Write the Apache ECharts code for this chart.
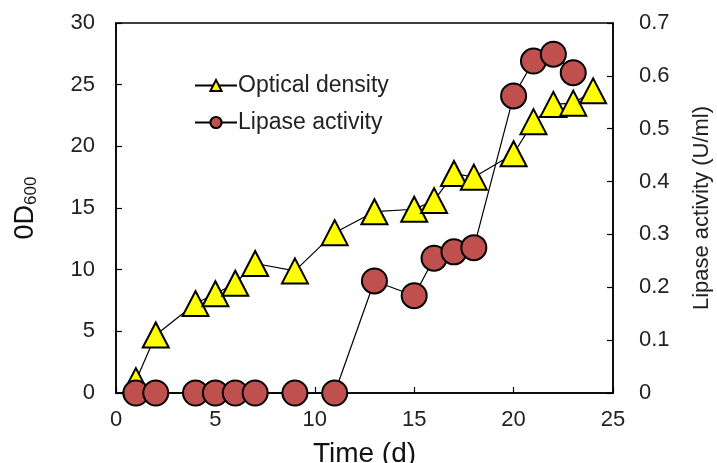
<!DOCTYPE html>
<html>
<head>
<meta charset="utf-8">
<script src="https://cdn.jsdelivr.net/npm/echarts@6/dist/echarts.min.js"></script>
<style>
html,body{margin:0;padding:0;background:#fff;}
#chart{width:717px;height:463px;}
</style>
</head>
<body>
<div id="chart"></div>
<script>
// Data
var odDays = [1, 2, 4, 5, 6, 7, 9, 11, 13, 15, 16, 17, 18, 20, 21, 22, 23, 24];
var odValues = [1.0, 4.7, 7.25, 8.05, 8.9, 10.5, 9.9, 13.0, 14.7, 14.9, 15.6, 17.8, 17.5, 19.4, 22.0, 23.4, 23.5, 24.5];
var lipaseDays = [1, 2, 4, 5, 6, 7, 9, 11, 13, 15, 16, 17, 18, 20, 21, 22, 23];
var lipaseValues = [0, 0, 0, 0, 0, 0, 0, 0, 0.212, 0.184, 0.255, 0.267, 0.275, 0.562, 0.628, 0.641, 0.606];
var seriesNames = ['Optical density', 'Lipase activity'];

function pairs(xs, ys) { return xs.map(function (x, i) { return [x, ys[i]]; }); }

var font = 'Liberation Sans, Arial, sans-serif';
var chart = echarts.init(document.getElementById('chart'), null, { renderer: 'canvas' });
chart.setOption({
  animation: false,
  backgroundColor: '#fff',
  grid: { left: 116, right: 104, top: 23, bottom: 70, show: true, borderColor: '#000', borderWidth: 1.5,
    containLabel: false, outerBoundsMode: 'none' },
  legend: {
    orient: 'vertical', left: 189, top: 69, itemWidth: 42, itemHeight: 14, itemGap: 14,
    textStyle: { fontFamily: font, fontSize: 23, color: '#222', padding: [0, 0, 0, -4] },
    data: seriesNames
  },
  xAxis: {
    type: 'value', min: 0, max: 25, interval: 5,
    name: 'Time (d)', nameLocation: 'middle', nameGap: 47,
    nameTextStyle: { fontFamily: font, fontSize: 28, color: '#111' },
    axisLine: { show: true, lineStyle: { color: '#000', width: 1.5 } },
    axisTick: { show: true, inside: true, length: 6, lineStyle: { color: '#000', width: 1.2 } },
    axisLabel: { fontFamily: font, fontSize: 22, color: '#222', margin: 16 },
    splitLine: { show: false }
  },
  yAxis: [{
    type: 'value', min: 0, max: 30, interval: 5,
    name: '{a|0D}{b|600}', nameLocation: 'middle', nameGap: 76, nameRotate: 90,
    nameTextStyle: { fontFamily: font, color: '#111',
      rich: { a: { fontFamily: font, fontSize: 27, color: '#111' }, b: { fontFamily: font, fontSize: 17, color: '#111', verticalAlign: 'bottom', padding: [12, 0, 0, 0] } } },
    axisLine: { show: true, lineStyle: { color: '#000', width: 1.5 } },
    axisTick: { show: true, inside: true, length: 6, lineStyle: { color: '#000', width: 1.2 } },
    axisLabel: { fontFamily: font, fontSize: 22, color: '#222', margin: 21 },
    splitLine: { show: false }
  }, {
    type: 'value', min: 0, max: 0.7, interval: 0.1, position: 'right',
    name: 'Lipase activity (U/ml)', nameLocation: 'middle', nameGap: 78, nameRotate: 90,
    nameTextStyle: { fontFamily: font, fontSize: 22, color: '#222' },
    axisLine: { show: true, lineStyle: { color: '#000', width: 1.5 } },
    axisTick: { show: true, inside: true, length: 6, lineStyle: { color: '#000', width: 1.2 } },
    axisLabel: { fontFamily: font, fontSize: 22, color: '#222', margin: 26,
      formatter: function (v) { return v === 0 ? '0' : (Math.round(v * 10) / 10).toString(); } },
    splitLine: { show: false }
  }],
  series: [{
    name: seriesNames[0], type: 'line', yAxisIndex: 0, clip: false,
    data: pairs(odDays, odValues),
    symbol: 'triangle', symbolSize: [26, 25],
    lineStyle: { color: '#000', width: 1.2 },
    itemStyle: { color: '#FFFF00', borderColor: '#000', borderWidth: 2 },
    z: 2
  }, {
    name: seriesNames[1], type: 'line', yAxisIndex: 1, clip: false,
    data: pairs(lipaseDays, lipaseValues),
    symbol: 'circle', symbolSize: 25,
    lineStyle: { color: '#000', width: 1.2 },
    itemStyle: { color: '#C0504D', borderColor: '#000', borderWidth: 2 },
    z: 3
  }]
});
</script>
</body>
</html>
